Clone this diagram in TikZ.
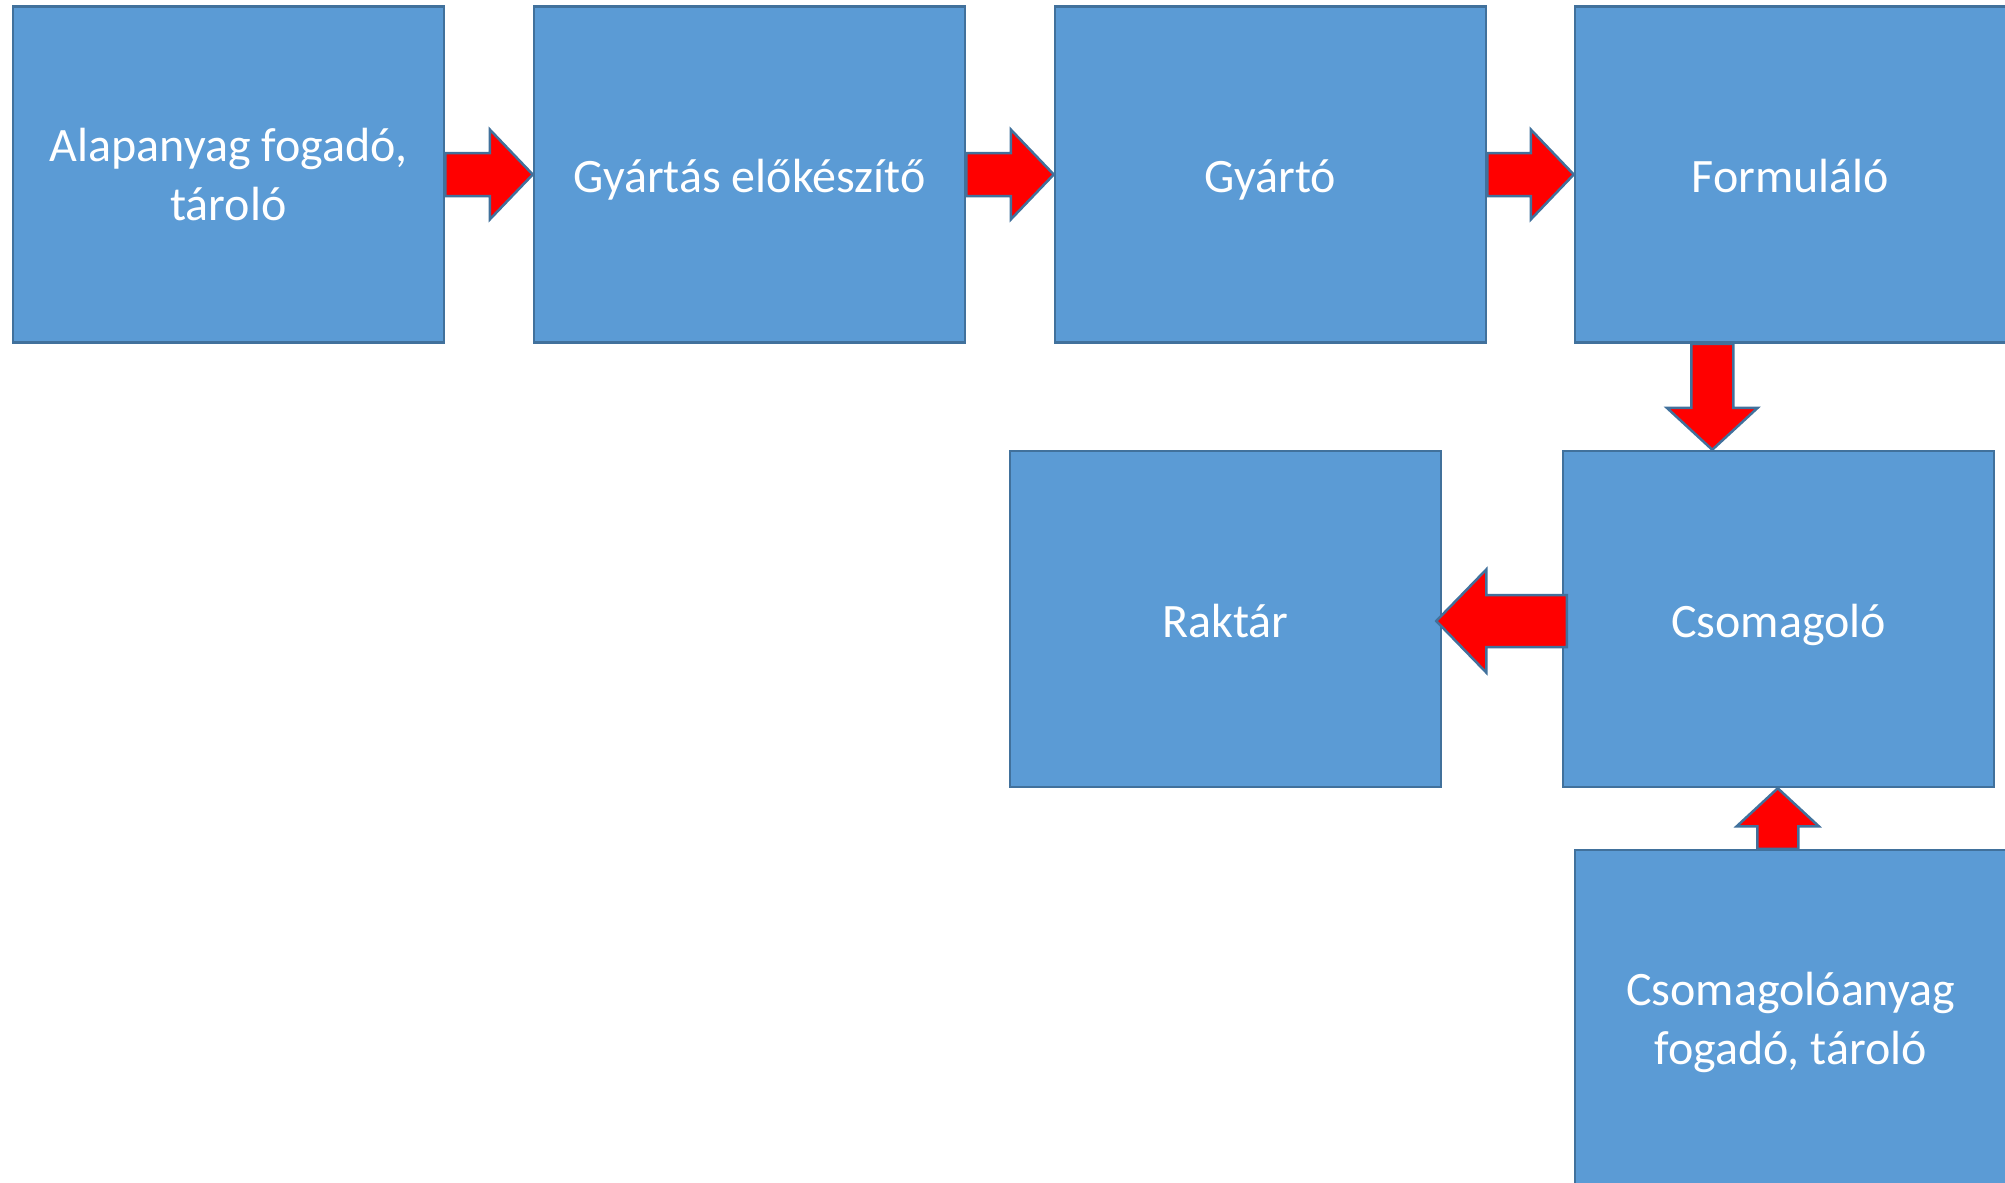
\documentclass[tikz,border=0pt]{standalone}
\usepackage{fontspec}
\setmainfont{Carlito}
\usetikzlibrary{calc}
\definecolor{boxfill}{HTML}{5B9BD5}
\definecolor{boxline}{HTML}{41719C}
\definecolor{arrred}{HTML}{FF0000}
\tikzset{
  box/.style={draw=boxline, fill=boxfill, line width=2.5pt, minimum width=431pt, minimum height=336pt,
    text=white, align=center, font=\fontsize{48}{59}\selectfont, inner sep=0pt},
  oneline/.style={text height=36pt, text depth=0pt},
  barrow/.style={draw=boxline, fill=arrred, line width=2.5pt, line join=miter}
}
\begin{document}
\begin{tikzpicture}[x=1pt,y=-1pt]
\useasboundingbox (0,0) rectangle (2005,1183);
\begin{scope}
\clip (0,0) rectangle (2005,1183);
\node[box] (alap) at (228.5,174.5) {Alapanyag fogadó,\\tároló};
\node[box, oneline] (elok) at (749.5,174.5) {Gyártás előkészítő};
\node[box, oneline] (gyar) at (1270.5,174.5) {Gyártó};
\node[box, oneline] (form) at (1790.5,174.5) {Formuláló};
\node[box, oneline] (rakt) at (1225.5,619) {Raktár};
\node[box, oneline] (csom) at (1778.5,619) {Csomagoló};
\node[box] (cany) at (1790.5,1018) {\raisebox{0pt}[\dimexpr\height+11pt\relax][\depth]{\begin{tabular}{@{}c@{}}Csomagolóanyag\\fogadó, tároló\end{tabular}}};
% right arrows
\foreach \a/\b in {alap/elok, elok/gyar, gyar/form}{
  \draw[barrow] let \p1=(\a.east), \p2=(\b.west) in
    (\x1,\y1+21.5pt) -- (\x2-43pt,\y1+21.5pt) -- (\x2-43pt,\y1+45pt) -- (\x2,\y1)
    -- (\x2-43pt,\y1-45pt) -- (\x2-43pt,\y1-21.5pt) -- (\x1,\y1-21.5pt) -- cycle;
}
% down arrow
\coordinate (dtop) at ($(form.south west)+(138.5,0)$);
\draw[barrow] let \p1=(dtop), \p2=(csom.north) in
  (\x1-21pt,\y1) -- (\x1-21pt,\y2+42pt) -- (\x1-45.5pt,\y2+42pt) -- (\x1,\y2)
  -- (\x1+45.5pt,\y2+42pt) -- (\x1+21pt,\y2+42pt) -- (\x1+21pt,\y1) -- cycle;
% left arrow
\coordinate (lstart) at ($(csom.west)+(5,2)$);
\coordinate (ltip) at ($(rakt.east)+(-6,0)$);
\draw[barrow] let \p1=(lstart), \p2=(ltip) in
  (\x1,\y1+26pt) -- (\x2+50pt,\y1+26pt) -- (\x2+50pt,\y1+51.5pt) -- (\x2,\y1)
  -- (\x2+50pt,\y1-51.5pt) -- (\x2+50pt,\y1-26pt) -- (\x1,\y1-26pt) -- cycle;
% up arrow
\coordinate (ubot) at ($(cany.north west)+(204,0)$);
\draw[barrow] let \p1=(ubot), \p2=(csom.south) in
  (\x1-20.5pt,\y1) -- (\x1-20.5pt,\y2-38pt) -- (\x1-41pt,\y2-38pt) -- (\x1,\y2)
  -- (\x1+41pt,\y2-38pt) -- (\x1+20.5pt,\y2-38pt) -- (\x1+20.5pt,\y1) -- cycle;
\end{scope}
\end{tikzpicture}
\end{document}
